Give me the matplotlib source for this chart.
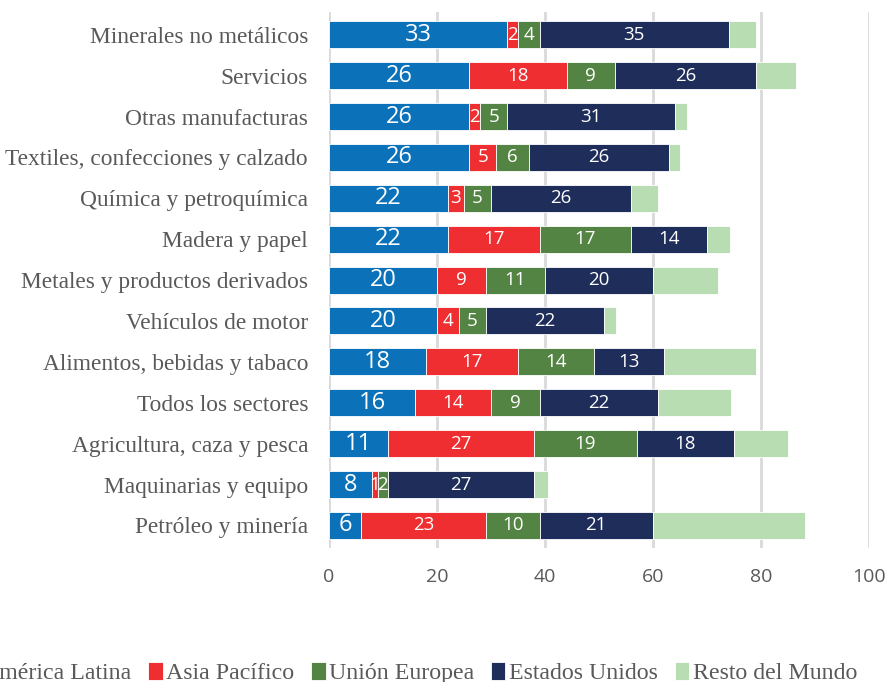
import numpy as np
import matplotlib
matplotlib.use('Agg')
import matplotlib.pyplot as plt

sectores = ['Minerales no metálicos', 'Servicios', 'Otras manufacturas',
            'Textiles, confecciones y calzado', 'Química y petroquímica',
            'Madera y papel', 'Metales y productos derivados',
            'Vehículos de motor', 'Alimentos, bebidas y tabaco',
            'Todos los sectores', 'Agricultura, caza y pesca',
            'Maquinarias y equipo', 'Petróleo y minería']

america_latina = [33, 26, 26, 26, 22, 22, 20, 20, 18, 16, 11, 8, 6]
asia_pacifico = [2, 18, 2, 5, 3, 17, 9, 4, 17, 14, 27, 1, 23]
union_europea = [4, 9, 5, 6, 5, 17, 11, 5, 14, 9, 19, 2, 10]
estados_unidos = [35, 26, 31, 26, 26, 14, 20, 22, 13, 22, 18, 27, 21]
resto_mundo = [5, 7.4, 2.3, 2, 4.9, 4.2, 12.1, 2.2, 17.1, 13.4, 10, 2.5, 28.1]

series = ['América Latina', 'Asia Pacífico', 'Unión Europea', 'Estados Unidos', 'Resto del Mundo']
colores = ['#0B72BA', '#EE2E30', '#548443', '#1E2D5A', '#B8DDB2']
valores = [america_latina, asia_pacifico, union_europea, estados_unidos, resto_mundo]

fig = plt.figure(figsize=(8.89, 6.82), dpi=100)
ax = fig.add_axes([0.370, 0.196, 0.6075, 0.786])

y = np.arange(len(sectores))
izq = np.zeros(len(sectores))
for i, (nombre, vals, col) in enumerate(zip(series, valores, colores)):
    vals = np.array(vals, dtype=float)
    barras = ax.barh(y, vals, left=izq, height=0.66, color=col, label=nombre,
                     edgecolor='white', linewidth=0.6, zorder=3)
    if i < 4:
        tam = 17 if i == 0 else 13.5
        etiquetas = ['%d' % v for v in vals]
        ax.bar_label(barras, labels=etiquetas, label_type='center', color='white',
                     fontsize=tam, family='Open Sans')
    izq += vals

ax.set_ylim(12.56, -0.55)
ax.set_xlim(0, 100)
ax.set_xticks([0, 20, 40, 60, 80, 100])
ax.set_yticks(y)
ax.set_yticklabels(sectores, family='Liberation Serif', fontsize=16.8, color='#595959')
for lab in ax.get_xticklabels():
    lab.set_family('Open Sans')
    lab.set_fontsize(14)
    lab.set_color('#595959')
ax.tick_params(length=0)
ax.tick_params(axis='x', pad=14)
ax.tick_params(axis='y', pad=15)
ax.grid(axis='x', color='#D9D9D9', linewidth=2, zorder=0)
for s in ax.spines.values():
    s.set_visible(False)

fig.legend(loc='center', bbox_to_anchor=(0.462, 0.013), ncol=5, frameon=False,
           prop={'family': 'Liberation Serif', 'size': 17.2}, labelcolor='#595959',
           handlelength=0.6, handleheight=0.75, handletextpad=0.15, columnspacing=0.7)

fig.savefig('out.png', dpi=100)
